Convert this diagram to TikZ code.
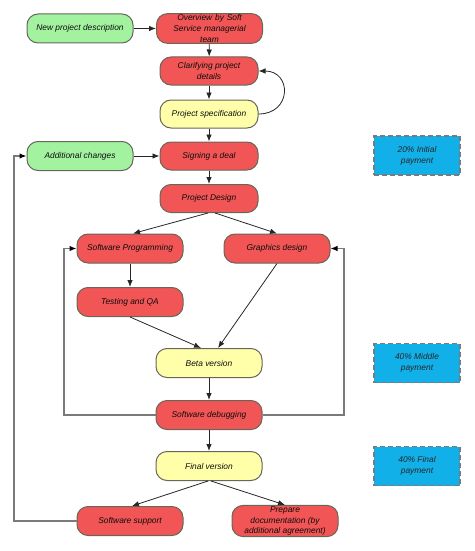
\documentclass[tikz,border=0pt]{standalone}
\usepackage{fontspec}
\setmainfont{Liberation Sans}
\usetikzlibrary{arrows.meta,calc}
\definecolor{gfill}{HTML}{A3F2A0}
\definecolor{rfill}{HTML}{F25555}
\definecolor{yfill}{HTML}{FFFFAA}
\definecolor{bfill}{HTML}{12B0E8}
\definecolor{bord}{HTML}{66665A}
\definecolor{fb}{HTML}{7A7A7A}
\tikzset{
  box/.style={draw=bord, line width=1pt, rounded corners=11pt, minimum width=106pt, minimum height=29pt,
    inner sep=1pt, align=center, font=\fontsize{8.4}{10.8}\selectfont\itshape, text=black!95},
  nbox/.style={box, minimum width=98pt, minimum height=28pt},
  grn/.style={fill=gfill}, red/.style={fill=rfill}, yel/.style={fill=yfill},
  pay/.style={draw=fb, dash pattern=on 5pt off 3pt, line width=1.2pt, fill=bfill, minimum width=86pt, minimum height=39pt,
    align=center, font=\fontsize{8.4}{10.8}\selectfont\itshape, text=black!85},
  arr/.style={-{Latex[length=7pt,width=5.5pt]}, line width=0.8pt, black!85},
  fbl/.style={-{Latex[length=7pt,width=5.5pt,color=black]}, line width=1.2pt, fb},
}
\begin{document}
\begin{tikzpicture}[x=1pt,y=-1pt]
\useasboundingbox (0,0) rectangle (474,551);
\node[box,grn] (new) at (80,28.5) {New project description};
\node[box,red,text width=90pt] (ov) at (209.5,28.5) {Overview by Soft\\Service managerial\\team};
\node[nbox,red] (cl) at (209,71) {Clarifying project\\details};
\node[nbox,yel] (ps) at (209,114) {Project specification};
\node[box,grn] (ac) at (80,156) {Additional changes};
\node[nbox,red] (sd) at (209,156) {Signing a deal};
\node[nbox,red] (pd) at (209,198.5) {Project Design};
\node[box,red] (sp) at (130,248.5) {Software Programming};
\node[box,red] (gd) at (277,248.5) {Graphics design};
\node[box,red] (tq) at (130,302) {Testing and QA};
\node[box,yel] (bv) at (209,363) {Beta version};
\node[box,red] (dbg) at (209,415) {Software debugging};
\node[box,yel] (fv) at (209,466) {Final version};
\node[box,red] (ss) at (130,521) {Software support};
\node[box,red] (pdoc) at (285,521) {Prepare\\documentation (by\\additional agreement)};
\node[pay] (p1) at (417,155.5) {20\% Initial\\payment};
\node[pay] (p2) at (417,363) {40\% Middle\\payment};
\node[pay] (p3) at (417,466) {40\% Final\\payment};
\coordinate (c1) at (64,415);
\coordinate (c2) at (64,248.5);
\coordinate (c3) at (344,415);
\coordinate (c4) at (344,248.5);
\coordinate (c5) at (14,521);
\coordinate (c6) at (14,156);
\draw[arr] (new) -- (ov);
\draw[arr] (ov) -- (cl);
\draw[arr] (cl) -- (ps);
\draw[arr] (ps) -- (sd);
\draw[arr] (ac) -- (sd);
\draw[arr] (sd) -- (pd);
\draw[arr] (ps.east) .. controls (292,114) and (292,71) .. (cl.east);
\draw[arr] ([xshift=-1pt]pd.south) -- ([xshift=3pt]sp.north);
\draw[arr] ([xshift=6pt]pd.south) -- (gd.north);
\draw[arr] (sp) -- (tq);
\draw[arr] (tq.south) -- ([xshift=-8pt]bv.north);
\draw[arr] (gd.south) -- ([xshift=9pt]bv.north);
\draw[arr] (bv) -- (dbg);
\draw[arr] (dbg) -- (fv);
\draw[arr] ([xshift=-1pt]fv.south) -- ([xshift=2pt]ss.north);
\draw[arr] ([xshift=2pt]fv.south) -- (pdoc.north);
\draw[fbl] (dbg.west) -- (c1) -- (c2) -- (sp.west);
\draw[fbl] (dbg.east) -- (c3) -- (c4) -- (gd.east);
\draw[fbl] (ss.west) -- (c5) -- (c6) -- (ac.west);
\end{tikzpicture}
\end{document}
